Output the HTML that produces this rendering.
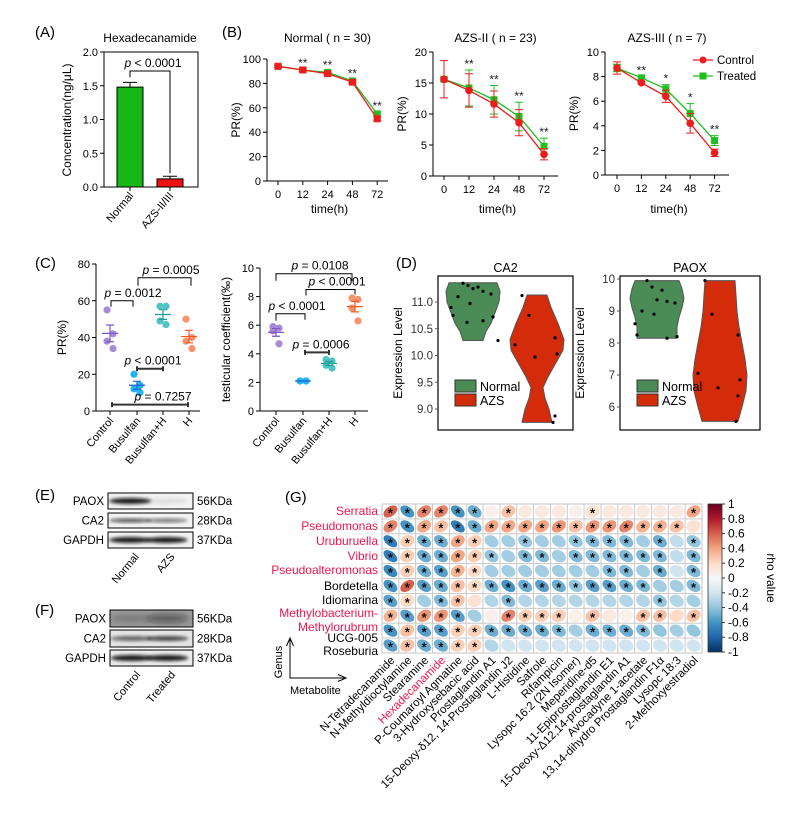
<!DOCTYPE html>
<html><head><meta charset="utf-8">
<style>
html,body{margin:0;padding:0;background:#fff;}
svg{display:block;font-family:"Liberation Sans",Arial,sans-serif;}
</style></head>
<body>
<svg id="fig" width="805" height="821" viewBox="0 0 805 821" xmlns="http://www.w3.org/2000/svg">
<defs>
<linearGradient id="cbar" x1="0" y1="0" x2="0" y2="1">
<stop offset="0" stop-color="#67001f"/><stop offset="0.1" stop-color="#b2182b"/><stop offset="0.2" stop-color="#d6604d"/><stop offset="0.3" stop-color="#f4a582"/><stop offset="0.4" stop-color="#fddbc7"/><stop offset="0.5" stop-color="#f7f7f7"/><stop offset="0.6" stop-color="#d1e5f0"/><stop offset="0.7" stop-color="#92c5de"/><stop offset="0.8" stop-color="#4393c3"/><stop offset="0.9" stop-color="#2166ac"/><stop offset="1" stop-color="#053061"/>
</linearGradient>
<filter id="blur" x="-20%" y="-50%" width="140%" height="200%"><feGaussianBlur stdDeviation="1.6"/></filter>
<filter id="blur2" x="-20%" y="-50%" width="140%" height="200%"><feGaussianBlur stdDeviation="3"/></filter>
</defs>
</svg>
<script>
// ---------- DATA ----------
const aGroups=['Normal','AZS-II/III'];
const aMeans=[1.48,0.12];
const aErr=[0.07,0.04];
const aTicks=[0,0.5,1.0,1.5,2.0];

const bTimes=['0','12','24','48','72'];
const bNormalCtrl=[94,91,88,81,51];
const bNormalCtrlErr=[1,1,1,1,1.5];
const bNormalTrt=[94,91,89,82,55];
const bNormalTrtErr=[1,1,1,1,1.5];
const bNormalStars=['','**','**','**','**'];
const bNormalTicks=[0,20,40,60,80,100];
const bIICtrl=[15.6,13.8,11.6,8.6,3.5];
const bIICtrlErr=[3,2.7,2.1,2.1,0.9];
const bIITrt=[15.6,14.2,12.3,9.6,4.8];
const bIITrtErr=[0.3,2.9,2.3,2.3,1.3];
const bIIStars=['','**','**','**','**'];
const bIITicks=[0,5,10,15,20];
const bIIICtrl=[8.7,7.5,6.4,4.2,1.8];
const bIIICtrlErr=[0.5,0.1,0.5,0.8,0.3];
const bIIITrt=[8.7,7.9,7.0,5.0,2.8];
const bIIITrtErr=[0.3,0.1,0.35,0.8,0.4];
const bIIIStars=['','**','*','*','**'];
const bIIITicks=[0,2,4,6,8,10];

const cGroups=['Control','Busulfan','Busulfan+H','H'];
const cPR=[[55,42,38,34],[20,14,12,10],[57,57,49,47],[50,40,38,34]];
const cPRTicks=[0,20,40,60,80];
const cTC=[[5.9,5.8,5.6,4.7],[2.1,2.1,2.1,2.1],[3.6,3.5,3.2,3.0],[7.9,7.8,7.2,6.3]];
const cTCTicks=[0,2,4,6,8,10];

const dCA2Normal=[11.35,11.31,11.28,11.25,11.2,11.15,11.1,10.97,10.9,10.75,10.72,10.65,10.62,10.28];
const dCA2AZS=[11.12,10.75,10.33,10.2,10.03,9.97,8.87,8.75];
const dCA2Ticks=[9.0,9.5,10.0,10.5,11.0];
const dPAOXNormal=[9.95,9.75,9.65,9.35,9.3,9.25,9.0,8.9,8.6,8.25,8.2,8.15];
const dPAOXAZS=[9.95,8.9,8.25,7.05,6.85,6.6,6.35,5.55];
const dPAOXTicks=[6,7,8,9,10];

const gGenus=['Serratia','Pseudomonas','Uruburuella','Vibrio','Pseudoalteromonas','Bordetella','Idiomarina','Methylobacterium-Methylorubrum','UCG-005','Roseburia'];
const gMetabolites=['N-Tetradecanamide','N-Methyldioctylamine','Stearamine','Hexadecanamide','P-Coumaroyl Agmatine','3-Hydroxysebacic acid','Prostaglandin A1','15-Deoxy-δ12, 14-Prostaglandin J2','L-Histidine','Safrole','Rifampicin','Lysopc 16:2 (2N Isomer)','Meperidine-d5','11-Epiprostaglandin E1','15-Deoxy-Δ12,14-prostaglandin A1','Avocadyne 1-acetate','13,14-dihydro Prostaglandin F1α','Lysopc 18:3','2-Methoxyestradiol'];
const gRho=[
[0.6,-0.6,0.5,0.5,-0.6,-0.5,0.05,0.3,0.1,0.1,0.1,0.05,0.15,0.1,0.1,0.1,0.1,0.1,0.4],
[0.5,-0.6,0.4,0.3,-0.7,-0.5,0.4,0.4,0.4,0.4,0.45,0.3,0.45,0.45,0.5,0.35,0.35,0.3,0.15],
[-0.7,0.25,-0.5,-0.5,0.4,0.25,-0.35,-0.35,-0.4,-0.35,-0.35,-0.4,-0.45,-0.45,-0.45,-0.35,-0.5,-0.25,-0.4],
[-0.7,0.25,-0.5,-0.5,0.4,0.25,-0.4,-0.35,-0.45,-0.45,-0.35,-0.45,-0.45,-0.45,-0.45,-0.45,-0.45,-0.25,-0.45],
[-0.65,0.25,-0.5,-0.55,0.35,0.2,-0.35,-0.35,-0.35,-0.35,-0.35,-0.35,-0.35,-0.45,-0.45,-0.35,-0.5,-0.2,-0.45],
[-0.6,0.6,-0.55,-0.5,0.3,0.2,-0.5,-0.6,-0.5,-0.55,-0.5,-0.4,-0.55,-0.55,-0.5,-0.45,-0.35,-0.35,-0.45],
[-0.55,0.2,-0.35,-0.45,0.3,0.15,-0.3,-0.45,-0.3,-0.3,-0.3,-0.3,-0.3,-0.3,-0.3,-0.3,-0.4,-0.3,-0.35],
[0.35,-0.55,0.45,0.45,-0.55,-0.35,0.05,0.5,0.25,0.25,0.25,0.05,0.3,0.1,0.05,0.3,0.3,0.2,0.3],
[-0.6,0.3,-0.55,-0.55,0.25,0.25,-0.5,-0.5,-0.5,-0.5,-0.45,-0.35,-0.5,-0.5,-0.5,-0.45,-0.4,-0.35,-0.4],
[-0.55,0.3,-0.5,-0.5,0.25,0.25,-0.3,-0.2,-0.2,-0.2,-0.2,-0.2,-0.2,-0.2,-0.2,-0.2,-0.2,-0.2,-0.2]];
const gSig=[
[1,1,1,1,1,1,0,1,0,0,0,0,1,0,0,0,0,0,1],
[1,1,1,1,1,1,1,1,1,1,1,1,1,1,1,1,1,1,0],
[1,1,1,1,1,1,0,0,1,0,0,1,1,1,1,0,1,0,1],
[1,1,1,1,1,1,1,0,1,1,0,1,1,1,1,1,1,0,1],
[1,1,1,1,1,1,0,0,0,0,0,0,0,1,1,0,1,0,1],
[1,1,1,1,1,1,1,1,1,1,1,1,1,1,1,1,0,0,1],
[1,1,0,1,1,0,0,1,0,0,0,0,0,0,0,0,1,0,0],
[1,1,1,1,1,0,0,1,1,1,1,0,1,0,0,1,1,0,1],
[1,1,1,1,1,1,1,1,1,1,1,0,1,1,1,1,0,0,0],
[1,1,1,1,1,1,0,0,0,0,0,0,0,0,0,0,0,0,0]];
const gCbarTicks=['1','0.8','0.6','0.4','0.2','0','-0.2','-0.4','-0.6','-0.8','-1'];

// ---------- HELPERS ----------
const NS='http://www.w3.org/2000/svg';
const svg=document.getElementById('fig');
function mk(tag,attrs,parent){const e=document.createElementNS(NS,tag);for(const k in attrs)e.setAttribute(k,attrs[k]);(parent||svg).appendChild(e);return e;}
function txt(parent,x,y,s,size,anchor,fill,extra){const t=mk('text',Object.assign({x:x,y:y,'font-size':size||11,'text-anchor':anchor||'start',fill:fill||'#000'},extra||{}),parent);t.textContent=s;return t;}
function grp(name){const g=mk('g',{},svg);return g;}
function lin(v,v0,v1,p0,p1){return p0+(v-v0)/(v1-v0)*(p1-p0);}

// panel labels
[['(A)',35,37],['(B)',222,37],['(C)',35,268],['(D)',396,268],['(E)',35,500],['(F)',35,615],['(G)',285,502]].forEach(function(p){
  const t=txt(svg,p[1],p[2],p[0],15,'start');
  
  
});

// ---------- PANEL A ----------
(function(){
  const g=grp('panel-a-bar-chart');
  const x0=104,x1=198,yTop=52,yBot=187;
  const Y=v=>lin(v,0,2,yBot,yTop);
  const fr=mk('rect',{x:x0,y:yTop,width:x1-x0,height:yBot-yTop,fill:'none',stroke:'#000','stroke-width':1},g);
  
  aTicks.forEach(function(v){
    mk('line',{x1:x0-4,x2:x0,y1:Y(v),y2:Y(v),stroke:'#000'},g);
    const t=txt(g,x0-6,Y(v)+4,v.toFixed(1),11,'end');
    
  });
  const t1=txt(g,150,42,'Hexadecanamide',12,'middle');
  
  const yl=txt(g,0,0,'Concentration(ng/μL)',12,'middle','#000',{transform:'translate(71,120) rotate(-90)'});
  
  const cols=['#16b716','#ee1111'];
  const cx=[130,170];
  aGroups.forEach(function(name,i){
    const b=mk('rect',{x:cx[i]-13,y:Y(aMeans[i]),width:26,height:yBot-Y(aMeans[i]),fill:cols[i],stroke:'#000','stroke-width':1},g);
    
    const e=mk('path',{d:'M'+cx[i]+' '+Y(aMeans[i])+'V'+Y(aMeans[i]+aErr[i])+'M'+(cx[i]-7)+' '+Y(aMeans[i]+aErr[i])+'H'+(cx[i]+7),stroke:'#000',fill:'none'},g);
    
    mk('line',{x1:cx[i],x2:cx[i],y1:yBot,y2:yBot+4,stroke:'#000'},g);
    const l=txt(g,0,0,name,11,'end','#000',{transform:'translate('+(cx[i]+4)+','+(yBot+9)+') rotate(-50)'});
    
  });
  const br=mk('path',{d:'M130 '+(Y(aMeans[0]+aErr[0])-5)+'V71H170V'+(Y(aMeans[1]+aErr[1])-3),fill:'none',stroke:'#000'},g);
  
  const p=mk('text',{x:153,y:67,'font-size':12,'text-anchor':'middle'},g);
  p.innerHTML='<tspan font-style="italic">p</tspan> &lt; 0.0001';
  
})();

// ---------- PANEL B ----------
function linePlot(name,title,ax,xs,yTop,yBot,xEnd,vmax,ticks,ctrl,ctrlErr,trt,trtErr,stars){
  const g=grp(name);
  const Y=v=>lin(v,0,vmax,yBot,yTop);
  mk('path',{d:'M'+ax+' '+yTop+'V'+yBot+'H'+xEnd,fill:'none',stroke:'#000'},g);
  ticks.forEach(function(v){
    mk('line',{x1:ax-4,x2:ax,y1:Y(v),y2:Y(v),stroke:'#000'},g);
    const t=txt(g,ax-6,Y(v)+4,String(v),11,'end');
    
  });
  const X=i=>xs[0]+i*xs[1];
  bTimes.forEach(function(s,i){
    mk('line',{x1:X(i),x2:X(i),y1:yBot,y2:yBot+4,stroke:'#000'},g);
    const t=txt(g,X(i),yBot+17,s,11,'middle');
    
  });
  const tt=txt(g,(ax+xEnd)/2,42,title,12,'middle');
  
  const xt=txt(g,(ax+xEnd)/2+2,213,'time(h)',12,'middle');
  
  const yt=txt(g,0,0,'PR(%)',12,'middle','#000',{transform:'translate('+(ax-27)+','+((yTop+yBot)/2)+') rotate(-90)'});
  
  [[trt,trtErr,'#1fbf1f','treated'],[ctrl,ctrlErr,'#ee1c1c','control']].forEach(function(s){
    const pts=s[0].map((v,i)=>X(i)+','+Y(v)).join(' ');
    const pl=mk('polyline',{points:pts,fill:'none',stroke:s[2],'stroke-width':1.3},g);
    
    s[0].forEach(function(v,i){
      const e=mk('path',{d:'M'+X(i)+' '+Y(v-s[1][i])+'V'+Y(v+s[1][i])+'M'+(X(i)-4)+' '+Y(v-s[1][i])+'h8M'+(X(i)-4)+' '+Y(v+s[1][i])+'h8',stroke:s[2],fill:'none'},g);
      
      let m;
      if(s[3]==='treated'){m=mk('rect',{x:X(i)-3.5,y:Y(v)-3.5,width:7,height:7,fill:s[2]},g);}
      else if(name==='panel-b-normal'){m=mk('rect',{x:X(i)-3.5,y:Y(v)-3.5,width:7,height:7,fill:s[2]},g);}
      else {m=mk('circle',{cx:X(i),cy:Y(v),r:3.8,fill:s[2]},g);}
      
    });
  });
  stars.forEach(function(s,i){
    if(!s)return;
    const top=Math.min(Y(ctrl[i]+ctrlErr[i]),Y(trt[i]+trtErr[i]));
    const t=txt(g,X(i),top-2,s,12,'middle','#223');
    
  });
  return g;
}
linePlot('panel-b-normal','Normal ( n = 30)',267,[278,24.8],59,181,388,100,bNormalTicks,bNormalCtrl,bNormalCtrlErr,bNormalTrt,bNormalTrtErr,bNormalStars);
linePlot('panel-b-azs-ii','AZS-II ( n = 23)',433,[444,25],52,176,558,20,bIITicks,bIICtrl,bIICtrlErr,bIITrt,bIITrtErr,bIIStars);
const g3=linePlot('panel-b-azs-iii','AZS-III ( n = 7)',605,[617,24.4],52,175,729,10,bIIITicks,bIIICtrl,bIIICtrlErr,bIIITrt,bIIITrtErr,bIIIStars);
(function(){
  const lg=mk('g',{},g3);
  mk('line',{x1:693,x2:713,y1:60,y2:60,stroke:'#ee1c1c','stroke-width':1.3},lg);
  mk('circle',{cx:703,cy:60,r:3.5,fill:'#ee1c1c'},lg);
  const a=txt(lg,717,64,'Control',11.5);
  mk('line',{x1:693,x2:713,y1:76,y2:76,stroke:'#1fbf1f','stroke-width':1.3},lg);
  mk('rect',{x:699.5,y:72.5,width:7,height:7,fill:'#1fbf1f'},lg);
  const b=txt(lg,717,80,'Treated',11.5);
})();

// ---------- PANEL C ----------
const cCols=['#a98ad8','#22b4f2','#4fc4c4','#f8946c'];
const cMeanCols=['#7b58c4','#1c5ed4','#1d9a9a','#f05a20'];
const cJitter=[-3,3,-3,3];
function dotPlot(name,ax,xs,yTop,yBot,xEnd,vmax,ticks,data,yTitle,brackets){
  const g=grp(name);
  const Y=v=>lin(v,0,vmax,yBot,yTop);
  mk('path',{d:'M'+ax+' '+yTop+'V'+yBot+'H'+xEnd,fill:'none',stroke:'#000'},g);
  ticks.forEach(function(v){
    mk('line',{x1:ax-4,x2:ax,y1:Y(v),y2:Y(v),stroke:'#000'},g);
    const t=txt(g,ax-6,Y(v)+4,String(v),11,'end');
    
  });
  const yt=txt(g,0,0,yTitle,12,'middle','#000',{transform:'translate('+(ax-30)+','+((yTop+yBot)/2)+') rotate(-90)'});
  
  cGroups.forEach(function(gn,i){
    const x=xs[i];
    mk('line',{x1:x,x2:x,y1:yBot,y2:yBot+4,stroke:'#000'},g);
    const t=txt(g,0,0,gn,11,'end','#000',{transform:'translate('+(x+4)+','+(yBot+10)+') rotate(-50)'});
    
    const vals=data[i];
    vals.forEach(function(v,j){
      const c=mk('circle',{cx:x+cJitter[j],cy:Y(v),r:3.6,fill:cCols[i]},g);
      
    });
    const m=vals.reduce((a,b)=>a+b,0)/vals.length;
    const sd=Math.sqrt(vals.reduce((a,b)=>a+(b-m)*(b-m),0)/(vals.length-1));
    const se=sd/Math.sqrt(vals.length);
    const e=mk('path',{d:'M'+(x-8)+' '+Y(m)+'h16M'+x+' '+Y(m-se)+'V'+Y(m+se)+'M'+(x-4)+' '+Y(m-se)+'h8M'+(x-4)+' '+Y(m+se)+'h8',stroke:cMeanCols[i],'stroke-width':1.2,fill:'none'},g);
    
  });
  brackets.forEach(function(b){
    const y=Y(b.v);
    let d;
    if(b.flat){d='M'+b.x1+' '+y+'H'+b.x2+'M'+b.x1+' '+(y-2.5)+'v5M'+b.x2+' '+(y-2.5)+'v5';}
    else d='M'+b.x1+' '+(y+b.l1)+'V'+y+'H'+b.x2+'V'+(y+b.l2);
    const p=mk('path',{d:d,fill:'none',stroke:b.flat?'#333':'#000','stroke-width':b.flat?2:1},g);
    
    const t=mk('text',{x:b.tx,y:y-4,'font-size':12,'text-anchor':'middle'},g);
    t.innerHTML='<tspan font-style="italic">p</tspan> '+b.t;
    
  });
}
dotPlot('panel-c-pr',96,[110,137,163,189],264,411,200,80,cPRTicks,cPR,'PR(%)',[
  {x1:111,x2:133,v:60,l1:6,l2:6,t:'= 0.0012',tx:133},
  {x1:138,x2:191,v:72.5,l1:8,l2:8,t:'= 0.0005',tx:171},
  {x1:137,x2:163,v:23,flat:true,t:'&lt; 0.0001',tx:153},
  {x1:112,x2:188,v:3.5,flat:true,t:'= 0.7257',tx:163}
]);
dotPlot('panel-c-testicular',260,[276,303,329,355],268,411,368,10,cTCTicks,cTC,'testicular coefficient(‰)',[
  {x1:276,x2:352,v:9.6,l1:7,l2:7,t:'= 0.0108',tx:320},
  {x1:306,x2:355,v:8.5,l1:6,l2:5,t:'&lt; 0.0001',tx:337},
  {x1:276,x2:305,v:6.8,l1:7,l2:6,t:'&lt; 0.0001',tx:297},
  {x1:305,x2:329,v:4.1,flat:true,t:'= 0.0006',tx:321}
]);

// ---------- PANEL D ----------
const dProfCA2N=[[11.36,24],[11.2,27],[11.0,26],[10.8,22],[10.6,18],[10.45,13],[10.28,10]];
const dProfCA2A=[[11.13,10],[10.9,14],[10.6,21],[10.3,27],[10.1,26],[9.9,20],[9.6,11],[9.4,6],[9.2,8],[9.0,12],[8.75,15]];
const dProfPN=[[9.95,22],[9.7,25],[9.4,27],[9.1,25],[8.8,22],[8.5,20],[8.15,20]];
const dProfPA=[[9.95,15],[9.5,16],[9.0,17],[8.5,19],[8.0,22],[7.5,25],[7.0,27],[6.5,26],[6.0,22],[5.55,18]];
const dJitN=[-10,-5,5,0,10,18,-15,-3,-22,-20,20,10,-6,25];
const dJitA=[-15,-8,18,-22,20,-2,18,16];
function violinPlot(name,title,bx0,bx1,by0,by1,tickVals,tv0,ty0,tv1,ty1,cN,cA,profN,profA,ptsN,ptsA,legY){
  const g=grp(name);
  const Y=v=>lin(v,tv0,tv1,ty0,ty1);
  const fr=mk('rect',{x:bx0,y:by0,width:bx1-bx0,height:by1-by0,fill:'none',stroke:'#000','stroke-width':1.2},g);
  
  tickVals.forEach(function(v){
    mk('line',{x1:bx0-3,x2:bx0,y1:Y(v),y2:Y(v),stroke:'#555'},g);
    const t=txt(g,bx0-5,Y(v)+4,(title==='CA2'?v.toFixed(1):String(v)),11.5,'end','#333');
    
  });
  const tt=txt(g,(bx0+bx1)/2,272,title,12.5,'middle');
  
  const yt=txt(g,0,0,'Expression Level',12,'middle','#000',{transform:'translate('+(bx0-36)+','+((by0+by1)/2)+') rotate(-90)'});
  
  [[profN,cN,'#4b8b55','normal',ptsN,dJitN],[profA,cA,'#d42b0a','azs',ptsA,dJitA]].forEach(function(s){
    const right=s[0].map(p=>(s[1]+p[1])+','+Y(p[0]));
    const left=s[0].slice().reverse().map(p=>(s[1]-p[1])+','+Y(p[0]));
    const v=mk('polygon',{points:right.concat(left).join(' '),fill:s[2],stroke:'#555','stroke-width':1,'stroke-linejoin':'round'},g);
    
    s[4].forEach(function(val,j){
      const c=mk('circle',{cx:s[1]+s[5][j%s[5].length],cy:Y(val),r:1.6,fill:'#000'},g);
      
    });
  });
  const lg=mk('g',{},g);
  mk('rect',{x:bx0+17,y:legY,width:21,height:12,fill:'#4b8b55',stroke:'#333'},lg);
  mk('rect',{x:bx0+17,y:legY+14,width:21,height:12,fill:'#d42b0a',stroke:'#333'},lg);
  const a=txt(lg,bx0+42,legY+11,'Normal',12.5);
  const b=txt(lg,bx0+42,legY+25,'AZS',12.5);
}
violinPlot('panel-d-ca2','CA2',438,573,276,430,dCA2Ticks,11.0,302,9.0,409,473,537,dProfCA2N,dProfCA2A,dCA2Normal,dCA2AZS,380);
violinPlot('panel-d-paox','PAOX',620,760,276,430,dPAOXTicks,10,279,6,407,657,720,dProfPN,dProfPA,dPAOXNormal,dPAOXAZS,380);

// ---------- PANELS E / F (western blots) ----------
function blot(name,x0,x1,rows,lanes,bg,names){
  const g=grp(name);
  rows.forEach(function(r){
    const rr=mk('rect',{x:x0,y:r.y,width:x1-x0,height:r.h,fill:r.bg||bg,stroke:'#000','stroke-width':1},g);
    
    r.bands.forEach(function(op,i){
      const cx=x0+(x1-x0)*(i===0?0.26:0.69);
      const e=mk('ellipse',{cx:cx,cy:r.y+r.h/2,rx:21,ry:r.bh||2.6,fill:'#111','fill-opacity':op,filter:r.soft?'url(#blur2)':'url(#blur)'},g);
      
    });
    const l=txt(g,x0-4,r.y+r.h/2+4,r.label,11.5,'end');
    
    const k=txt(g,x1+4,r.y+r.h/2+4,r.kda,11.5,'start');
    
  });
  const last=rows[rows.length-1];
  names.forEach(function(n,i){
    const cx=x0+(x1-x0)*(i===0?0.3:0.72);
    const t=txt(g,0,0,n,11,'end','#000',{transform:'translate('+(cx+6)+','+(last.y+last.h+9)+') rotate(-50)'});
    
  });
}
blot('panel-e-western-blot',108,193,[
  {y:493,h:16,label:'PAOX',kda:'56KDa',bands:[0.95,0.08],bh:3},
  {y:513,h:15,label:'CA2',kda:'28KDa',bands:[0.7,0.55],bh:2},
  {y:532,h:16,label:'GAPDH',kda:'37KDa',bands:[0.95,0.95],bh:3}
],['Normal','AZS'],'#f2f2f2',['Normal','AZS']);
blot('panel-f-western-blot',110,193,[
  {y:610,h:17,label:'PAOX',kda:'56KDa',bands:[0.2,0.5],bh:4,bg:'#9a9a9a',soft:true},
  {y:630,h:17,label:'CA2',kda:'28KDa',bands:[0.65,0.8],bh:2.3,bg:'#e4e4e4'},
  {y:650,h:16,label:'GAPDH',kda:'37KDa',bands:[0.95,0.95],bh:3,bg:'#ececec'}
],['Control','Treated'],'#eee',['Control','Treated']);

// ---------- PANEL G (correlation heatmap) ----------
(function(){
  const g=grp('panel-g-correlation-heatmap');
  const gx0=382,gx1=702,gy0=504,gy1=653;
  const cw=(gx1-gx0)/gMetabolites.length, ch=(gy1-gy0)/gGenus.length;
  const stops=[[-1,[5,48,97]],[-0.8,[33,102,172]],[-0.6,[67,147,195]],[-0.4,[146,197,222]],[-0.2,[209,229,240]],[0,[247,247,247]],[0.2,[253,219,199]],[0.4,[244,165,130]],[0.6,[214,96,77]],[0.8,[178,24,43]],[1,[103,0,31]]];
  function col(r){for(let i=0;i<stops.length-1;i++){if(r<=stops[i+1][0]){const t=(r-stops[i][0])/0.2;const a=stops[i][1],b=stops[i+1][1];return 'rgb('+a.map((v,k)=>Math.round(v+(b[k]-v)*t)).join(',')+')';}}return 'rgb(103,0,31)';}
  mk('rect',{x:gx0,y:gy0,width:gx1-gx0,height:gy1-gy0,fill:'#fff',stroke:'#bbb'},g);
  gGenus.forEach(function(gn,i){
    gMetabolites.forEach(function(mn,j){
      const r=gRho[i][j];
      const cx=gx0+(j+0.5)*cw, cy=gy0+(i+0.5)*ch;
      const cell=mk('rect',{x:gx0+j*cw,y:gy0+i*ch,width:cw,height:ch,fill:'none',stroke:'#c8c8c8','stroke-width':0.8},g);
      
      const a=Math.abs(r);
      const e=mk('ellipse',{cx:0,cy:0,rx:0.84*Math.sqrt(1+0.6*a),ry:0.84*Math.sqrt(1-0.75*a),fill:col(r),transform:'translate('+cx+','+cy+') scale('+(cw/2)+','+(ch/2)+') rotate('+(r>=0?-45:45)+')'},g);
      
      if(gSig[i][j]){
        const s=txt(g,cx,cy+6,'*',13,'middle','#111',{'font-weight':'bold'});
        
      }
    });
  });
  const red='#f0164c';
  const rowLab=[['Serratia',515,red],['Pseudomonas',530,red],['Uruburuella',545,red],['Vibrio',560,red],['Pseudoalteromonas',574,red],['Bordetella',590,'#000'],['Idiomarina',604,'#000'],['Methylobacterium-',617,red],['Methylorubrum',631,red],['UCG-005',642,'#000'],['Roseburia',655,'#000']];
  rowLab.forEach(function(l){
    const t=txt(g,378,l[1],l[0],12,'end',l[2]);
    
  });
  gMetabolites.forEach(function(mn,j){
    const cx=gx0+(j+0.5)*cw;
    const t=txt(g,0,0,mn,11.5,'end',mn==='Hexadecanamide'?'#f0164c':'#000',{transform:'translate('+(cx+5)+',661) rotate(-45)'});
    
  });
  const ar=mk('path',{d:'M290 640V678H344M286.5 646L290 638L293.5 646M338 674.5L346 678L338 681.5',fill:'none',stroke:'#000','stroke-width':1},g);
  
  const gt=txt(g,0,0,'Genus',11,'middle','#000',{transform:'translate(282,662) rotate(-90)'});
  
  const mt=txt(g,290,694,'Metabolite',11,'start');
  
  const cb=mk('rect',{x:708,y:504,width:14,height:148,fill:'url(#cbar)',stroke:'#333','stroke-width':0.8},g);
  
  gCbarTicks.forEach(function(s,i){
    const y=504+i*14.8;
    mk('line',{x1:722,x2:725,y1:y,y2:y,stroke:'#333'},g);
    const t=txt(g,728,y+4,s,12,'start');
    
  });
  const rt=txt(g,0,0,'rho value',12,'middle','#000',{transform:'translate(767,578) rotate(90)'});
  
})();
</script>
</body></html>
